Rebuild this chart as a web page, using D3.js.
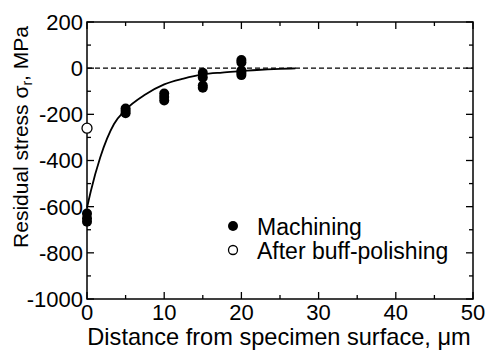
<!DOCTYPE html>
<html><head><meta charset="utf-8">
<script src="https://cdn.jsdelivr.net/npm/d3@7"></script>
<style>body{margin:0;background:#fff}svg{display:block}text{font-family:"Liberation Sans",Arial,Helvetica,sans-serif;fill:#000}</style>
</head><body><svg id="c" width="486" height="351"></svg>
<script>
// Data
const machiningX = [0,0,0, 5,5,5, 10,10,10, 15,15,15,15, 20,20,20,20,20];
const machiningY = [-630,-650,-665, -175,-185,-195, -110,-125,-140, -20,-40,-75,-85, 35,25,-10,-20,-30];
const buffX = [0];
const buffY = [-260];
const fitX = [0, 0.5, 1.7, 3.5, 5, 7.5, 10, 12.5, 15, 17.5, 20, 22, 25, 27];
const fitY = [-605, -532, -388, -242, -180, -115, -70, -45, -27, -19, -13, -8, -3, -1];
const xTicks = [0,10,20,30,40,50];
const yTicks = [200,0,-200,-400,-600,-800,-1000];
const legendLabels = ["Machining","After buff-polishing"];

const svg = d3.select("#c");
const x = d3.scaleLinear().domain([0,50]).range([87,473]);
const y = d3.scaleLinear().domain([-1000,200]).range([299,22]);

// frame
svg.append("rect").attr("x",x(0)).attr("y",y(200)).attr("width",x(50)-x(0)).attr("height",y(-1000)-y(200))
  .attr("fill","none").attr("stroke","#000").attr("stroke-width",1.5);

// ticks (inward, all four sides)
const g = svg.append("g").attr("stroke","#000").attr("stroke-width",1.3);
d3.range(0,51,5).forEach(v=>{
  const L = v%10===0?7:4;
  g.append("line").attr("x1",x(v)).attr("x2",x(v)).attr("y1",y(-1000)).attr("y2",y(-1000)-L);
  g.append("line").attr("x1",x(v)).attr("x2",x(v)).attr("y1",y(200)).attr("y2",y(200)+L);
});
d3.range(-1000,201,100).forEach(v=>{
  const L = v%200===0?7:4;
  g.append("line").attr("y1",y(v)).attr("y2",y(v)).attr("x1",x(0)).attr("x2",x(0)+L);
  g.append("line").attr("y1",y(v)).attr("y2",y(v)).attr("x1",x(50)).attr("x2",x(50)-L);
});

// tick labels
svg.append("g").selectAll("text").data(xTicks).join("text")
  .attr("x",d=>x(d)).attr("y",320).attr("text-anchor","middle").attr("font-size",22).text(d=>d);
svg.append("g").selectAll("text").data(yTicks).join("text")
  .attr("x",83).attr("y",d=>y(d)).attr("dy","0.36em").attr("text-anchor","end").attr("font-size",22).text(d=>d);

// dashed zero line
svg.append("line").attr("x1",x(0)).attr("x2",x(50)).attr("y1",y(0)).attr("y2",y(0))
  .attr("stroke","#000").attr("stroke-width",1.1).attr("stroke-dasharray","5,3");

// fitted curve
const line = d3.line().x(d=>x(d[0])).y(d=>y(d[1])).curve(d3.curveMonotoneX);
svg.append("path").datum(fitX.map((v,i)=>[v,fitY[i]])).attr("d",line)
  .attr("fill","none").attr("stroke","#000").attr("stroke-width",1.8);

// points
svg.append("g").selectAll("circle").data(machiningX.map((v,i)=>[v,machiningY[i]])).join("circle")
  .attr("cx",d=>x(d[0])).attr("cy",d=>y(d[1])).attr("r",5).attr("fill","#000");
svg.append("g").selectAll("circle").data(buffX.map((v,i)=>[v,buffY[i]])).join("circle")
  .attr("cx",d=>x(d[0])).attr("cy",d=>y(d[1])).attr("r",5).attr("fill","#fff").attr("stroke","#000").attr("stroke-width",1.3);

// legend
svg.append("circle").attr("cx",233).attr("cy",226).attr("r",5).attr("fill","#000");
svg.append("circle").attr("cx",233).attr("cy",250).attr("r",4.5).attr("fill","#fff").attr("stroke","#000").attr("stroke-width",1.3);
svg.append("text").attr("x",257).attr("y",235).attr("font-size",23).text(legendLabels[0]);
svg.append("text").attr("x",257).attr("y",259).attr("font-size",23).text(legendLabels[1]);

// axis titles
svg.append("text").attr("x",279).attr("y",345).attr("text-anchor","middle").attr("font-size",23.6)
  .text("Distance from specimen surface, \u03bcm");
const yt = svg.append("text").attr("transform","translate(28,137) rotate(-90)").attr("text-anchor","middle").attr("font-size",21);
yt.append("tspan").text("Residual stress \u03c3");
yt.append("tspan").attr("font-size",14).attr("dy",4).text("r");
yt.append("tspan").attr("dy",-4).text(", MPa");
</script></body></html>
